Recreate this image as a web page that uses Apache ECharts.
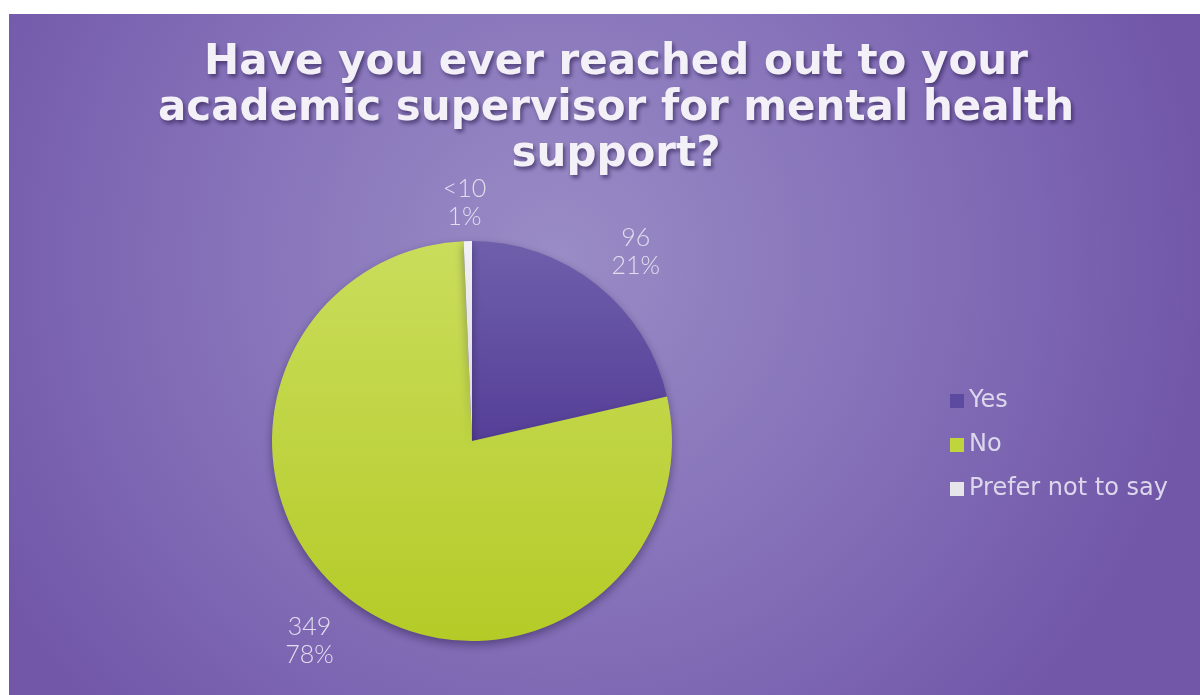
<!DOCTYPE html>
<html>
<head>
<meta charset="utf-8">
<script src="https://cdn.jsdelivr.net/npm/echarts@6/dist/echarts.min.js"></script>
<style>
  html, body { margin: 0; padding: 0; background: #ffffff; }
  #chart { position: absolute; left: 9px; top: 14px; width: 1191px; height: 681px; }
</style>
</head>
<body>
<div id="chart"></div>
<script>
// Survey answers
const categories = ['Yes', 'No', 'Prefer not to say'];
const counts = [96, 349, 3];
const countLabels = ['96', '349', '<10'];
const percentLabels = ['21%', '78%', '1%'];

const titleText = 'Have you ever reached out to your\nacademic supervisor for mental health\nsupport?';

// Slice fills (top to bottom shading) and flat legend swatches
const sliceFills = [
  ['#6f5fab', '#553f98'],
  ['#cadd5c', '#b4cb27'],
  ['#f2f2f5', '#d8d8de']
];
const swatches = ['#5b4a9f', '#c0d43c', '#e6e6ea'];

// Nudges that settle each value label where it sits best beside its slice
const labelNudges = [[3, 13], [-6, -5], [-2, 20]];

const labelFont = 'Lato, "Open Sans", sans-serif';
const legendFont = '"DejaVu Sans", sans-serif';
const labelColor = '#e2def0';

const chart = echarts.init(document.getElementById('chart'));

const pieData = categories.map((name, i) => ({
  name: name,
  value: counts[i],
  itemStyle: {
    color: {
      type: 'linear', x: 0, y: 0, x2: 0, y2: 1,
      colorStops: [
        { offset: 0, color: sliceFills[i][0] },
        { offset: 1, color: sliceFills[i][1] }
      ]
    }
  }
}));

// Invisible ring carrying the value labels just outside the pie
const labelRing = categories.map((name, i) => ({
  name: name,
  value: counts[i],
  label: { formatter: countLabels[i] + '\n' + percentLabels[i], offset: labelNudges[i] }
}));

chart.setOption({
  backgroundColor: {
    type: 'radial', x: 0.46, y: 0.36, r: 0.95,
    colorStops: [
      { offset: 0, color: '#9a8cc6' },
      { offset: 0.55, color: '#8470b8' },
      { offset: 1, color: '#7257a9' }
    ]
  },
  title: {
    text: titleText,
    left: 602,
    top: 21,
    textAlign: 'center',
    textStyle: {
      fontFamily: '"DejaVu Sans", sans-serif',
      fontWeight: 'bold',
      fontSize: 42,
      lineHeight: 46,
      color: '#f3f1f7',
      textShadowColor: 'rgba(35, 20, 70, 0.6)',
      textShadowBlur: 4,
      textShadowOffsetX: 2,
      textShadowOffsetY: 3
    }
  },
  legend: {
    orient: 'vertical',
    left: 936,
    top: 369,
    itemWidth: 14,
    itemHeight: 14,
    itemGap: 18,
    icon: 'rect',
    data: categories.map((name, i) => ({ name: name, itemStyle: { color: swatches[i] } })),
    textStyle: { fontFamily: legendFont, fontWeight: 'normal', fontSize: 24, lineHeight: 26, color: '#dcd7ec' }
  },
  series: [
    {
      type: 'pie',
      center: [463, 427],
      radius: [0, 200],
      startAngle: 90,
      clockwise: true,
      silent: true,
      label: { show: false },
      labelLine: { show: false },
      itemStyle: {
        borderWidth: 0,
        shadowColor: 'rgba(30, 15, 60, 0.45)',
        shadowBlur: 10,
        shadowOffsetY: 4
      },
      data: pieData
    },
    {
      type: 'pie',
      center: [463, 427],
      radius: [244, 266],
      startAngle: 90,
      clockwise: true,
      silent: true,
      legendHoverLink: false,
      itemStyle: { color: 'rgba(0,0,0,0)' },
      label: {
        show: true,
        position: 'inside',
        fontFamily: labelFont,
        fontWeight: 300,
        fontSize: 25,
        lineHeight: 28,
        color: labelColor,
        align: 'center'
      },
      labelLine: { show: false },
      data: labelRing
    }
  ]
});
</script>
</body>
</html>
